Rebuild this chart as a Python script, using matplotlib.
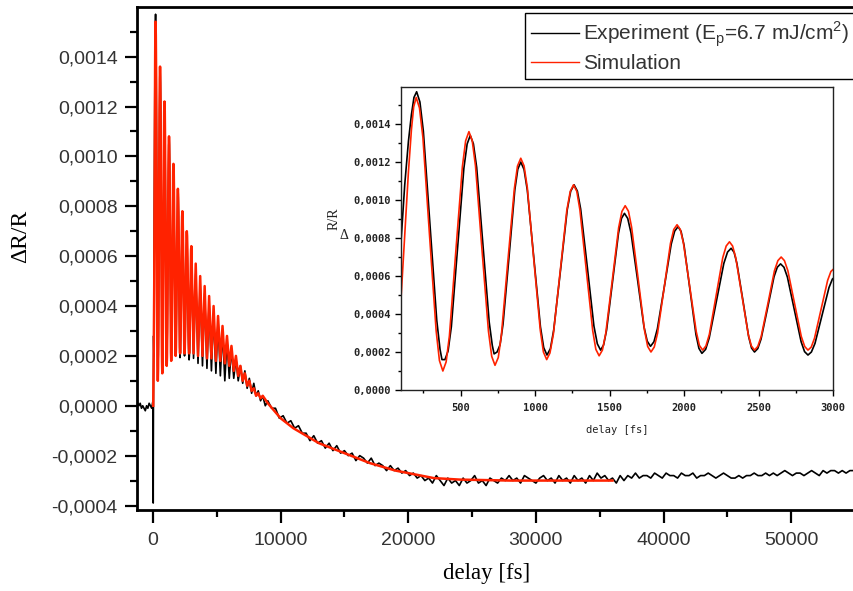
import matplotlib.pyplot as plt
import numpy as np
from matplotlib.ticker import MultipleLocator, FuncFormatter

plt.rcParams['font.family'] = ['Liberation Sans', 'DejaVu Sans']

# ---- Experiment (black): baseline before time zero ----
exp_pre_x = [-1200, -1100, -1000, -900, -800, -700, -600, -500, -400, -300, -200, -100, 0]
exp_pre_y = [0.00001, 0.0, 0.00001, -0.00001, 0.0, -0.00001, -0.00002, 0.0, -0.00001,
             0.00001, 0.0, -0.00001, 0.00002]

# ---- Experiment: coherent phonon oscillation (0-3000 fs) ----
exp_osc_x = [20, 50, 75, 100, 125, 150, 170, 187, 205,
             227, 250, 295, 340, 362, 375, 395,
             416, 438, 480, 522, 544, 565,
             586, 608, 650, 692, 713, 725, 745,
             765, 785, 825, 864, 884, 904,
             926, 948, 992, 1036, 1058, 1080,
             1103, 1125, 1171, 1216, 1239, 1262,
             1284, 1306, 1351, 1395, 1418, 1440,
             1460, 1480, 1520, 1560, 1580, 1600,
             1622, 1644, 1688, 1731, 1753, 1775,
             1798, 1821, 1868, 1914, 1937, 1960,
             1980, 2000, 2040, 2080, 2100, 2120,
             2145, 2169, 2218, 2267, 2292, 2316,
             2336, 2355, 2395, 2434, 2453, 2473,
             2495, 2517, 2561, 2604, 2626, 2648,
             2671, 2694, 2740, 2786, 2809, 2832,
             2855, 2879, 2926, 2973, 2996, 3020]
exp_osc_y = [-0.00039, 0.00028, 0.00020, 0.00078, 0.00108, 0.00131, 0.00145, 0.00154, 0.00157,
             0.001516, 0.001363, 0.000865, 0.000367, 0.000214, 0.00016, 0.00016,
             0.000205, 0.000333, 0.00075, 0.001167, 0.001295, 0.00134,
             0.001296, 0.001172, 0.000765, 0.000358, 0.000234, 0.00019, 0.00020,
             0.000238, 0.000347, 0.00070, 0.001053, 0.001162, 0.00120,
             0.001161, 0.001051, 0.000692, 0.000333, 0.000223, 0.000184,
             0.000218, 0.000315, 0.000632, 0.000949, 0.001046, 0.00108,
             0.001047, 0.000953, 0.000645, 0.000337, 0.000243, 0.00021,
             0.000237, 0.000315, 0.00057, 0.000825, 0.000903, 0.00093,
             0.000903, 0.000827, 0.00058, 0.000333, 0.000257, 0.00023,
             0.000254, 0.000322, 0.000545, 0.000768, 0.000836, 0.00086,
             0.000835, 0.000762, 0.000527, 0.000292, 0.000219, 0.000193,
             0.000214, 0.000274, 0.00047, 0.000666, 0.000726, 0.000746,
             0.000725, 0.000666, 0.000473, 0.00028, 0.000221, 0.00020,
             0.000218, 0.000268, 0.000432, 0.000596, 0.000646, 0.000664,
             0.000646, 0.000594, 0.000424, 0.000254, 0.000202, 0.000184,
             0.00020, 0.000245, 0.000392, 0.000539, 0.000584, 0.00060]

# ---- Experiment: troughs / peaks of the decaying oscillation (3000-9000 fs) ----
exp_pk_x = [3180, 3350, 3530, 3700, 3880, 4050, 4230, 4400, 4580, 4750, 4930, 5100,
            5280, 5450, 5630, 5800, 5980, 6150, 6330, 6500, 6680, 6850, 7030, 7200,
            7380, 7550, 7730, 7900, 8080, 8250, 8430, 8600, 8800]
exp_pk_y = [0.00019, 0.00053, 0.00017, 0.00049, 0.00016, 0.00045, 0.00015, 0.00041,
            0.00014, 0.00037, 0.00013, 0.00034, 0.00012, 0.00030, 0.00010, 0.00026,
            0.00011, 0.00023, 0.00011, 0.00019, 0.00010, 0.00016, 0.00009, 0.00014,
            0.00007, 0.00011, 0.00005, 0.00009, 0.00004, 0.00006, 0.00002, 0.00004, 0.0]

# ---- Experiment: slow tail, sampled every 300 fs from 9000 fs ----
exp_tail_x = np.arange(9000, 55000, 300)
exp_tail_y = [
    0.00002, -0.00001, -0.00001, -0.00005, -0.00004, -0.00007, -0.00006, -0.00009, -0.00008, -0.00011,
    -0.00011, -0.00014, -0.00012, -0.00015, -0.00014, -0.00017, -0.00015, -0.00018, -0.00016, -0.00019,
    -0.00018, -0.00020, -0.00019, -0.00022, -0.00020, -0.00021, -0.00023, -0.00021, -0.00024, -0.00023,
    -0.00024, -0.00026, -0.00024, -0.00026, -0.00025, -0.00027, -0.00026, -0.00028, -0.00027, -0.00029,
    -0.00028, -0.00030, -0.00029, -0.00031, -0.00028, -0.00030, -0.00032, -0.00029, -0.00031, -0.00030,
    -0.00032, -0.00029, -0.00031, -0.00030, -0.00028, -0.00031, -0.00030, -0.00032, -0.00029, -0.00030,
    -0.00031, -0.00029, -0.00030, -0.00028, -0.00030, -0.00029, -0.00031, -0.00028, -0.00029, -0.00030,
    -0.00031, -0.00029, -0.00028, -0.00030, -0.00029, -0.00031, -0.00028, -0.00030, -0.00029, -0.00031,
    -0.00028, -0.00030, -0.00029, -0.00031, -0.00028, -0.00030, -0.00027, -0.00029, -0.00028, -0.00030,
    -0.00029, -0.00031, -0.00028, -0.00030, -0.00028, -0.00029, -0.00027, -0.00029, -0.00028, -0.00028,
    -0.00029, -0.00027, -0.00028, -0.00029, -0.00027, -0.00028, -0.00028, -0.00029, -0.00027, -0.00028,
    -0.00028, -0.00027, -0.00029, -0.00028, -0.00028, -0.00027, -0.00028, -0.00029, -0.00028, -0.00027,
    -0.00028, -0.00029, -0.00029, -0.00028, -0.00029, -0.00028, -0.00028, -0.00027, -0.00028, -0.00028,
    -0.00027, -0.00028, -0.00027, -0.00028, -0.00027, -0.00026, -0.00027, -0.00028, -0.00027, -0.00027,
    -0.00028, -0.00027, -0.00026, -0.00027, -0.00028, -0.00026, -0.00027, -0.00026, -0.00026, -0.00027,
    -0.00026, -0.00027, -0.00026, -0.00026,
]

# ---- Simulation (red) ----
sim_osc_x = [20, 60, 100, 125, 150, 170, 185, 202,
             224, 247, 291, 336, 358, 381,
             403, 425, 468, 512, 534, 556,
             578, 600, 643, 687, 709, 731,
             753, 774, 817, 861, 882, 904,
             926, 948, 991, 1035, 1056, 1078,
             1100, 1123, 1168, 1213, 1236, 1258,
             1280, 1301, 1344, 1387, 1408, 1430,
             1452, 1474, 1518, 1561, 1583, 1605,
             1627, 1648, 1692, 1735, 1756, 1778,
             1800, 1822, 1866, 1909, 1931, 1953,
             1975, 1996, 2039, 2082, 2103, 2125,
             2147, 2170, 2215, 2260, 2283, 2305,
             2326, 2347, 2389, 2431, 2452, 2473,
             2495, 2518, 2563, 2607, 2630, 2652,
             2674, 2697, 2742, 2787, 2810, 2832,
             2854, 2876, 2920, 2964, 2986, 3008]
sim_osc_y = [0.0, 0.00020, 0.00048, 0.00082, 0.00115, 0.00137, 0.00149, 0.00154,
             0.001485, 0.00133, 0.00082, 0.000311, 0.000155, 0.00010,
             0.000148, 0.000285, 0.00073, 0.001175, 0.001312, 0.00136,
             0.001313, 0.00118, 0.000745, 0.00031, 0.000177, 0.00013,
             0.000171, 0.00029, 0.000675, 0.00106, 0.001179, 0.00122,
             0.00118, 0.001065, 0.00069, 0.000315, 0.00020, 0.00016,
             0.000195, 0.000295, 0.00062, 0.000945, 0.001045, 0.00108,
             0.001046, 0.000948, 0.00063, 0.000312, 0.000214, 0.00018,
             0.00021, 0.000296, 0.000575, 0.000854, 0.00094, 0.00097,
             0.000941, 0.000857, 0.000585, 0.000313, 0.000229, 0.00020,
             0.000226, 0.000298, 0.000535, 0.000772, 0.000845, 0.00087,
             0.000845, 0.000773, 0.00054, 0.000307, 0.000235, 0.00021,
             0.000232, 0.000293, 0.000495, 0.000697, 0.000758, 0.00078,
             0.000758, 0.000697, 0.000495, 0.000293, 0.000232, 0.00021,
             0.000229, 0.000282, 0.000455, 0.000628, 0.000681, 0.00070,
             0.000681, 0.000628, 0.000455, 0.000282, 0.000229, 0.00021,
             0.000226, 0.000273, 0.000425, 0.000577, 0.000624, 0.00064]

sim_pk_x = [3180, 3350, 3530, 3700, 3880, 4050, 4230, 4400, 4580, 4750, 4930, 5100,
            5280, 5450, 5630, 5800, 5980, 6150, 6330, 6500, 6680, 6850, 7030, 7200,
            7380, 7550, 7730, 7900, 8080, 8250, 8430, 8600]
sim_pk_y = [0.00021, 0.00057, 0.00020, 0.00052, 0.00020, 0.00048, 0.00019, 0.00044,
            0.00019, 0.00040, 0.00018, 0.00036, 0.00018, 0.00032, 0.00017, 0.00028,
            0.00016, 0.00024, 0.00014, 0.00020, 0.00012, 0.00016, 0.00010, 0.00013,
            0.00008, 0.00010, 0.00006, 0.00007, 0.00004, 0.00005, 0.00003, 0.00004]

sim_tail_x = [9000, 10000, 11000, 12000, 13000, 14000, 15000, 16000, 17000, 18000, 19000,
              20000, 21000, 22000, 23000, 24000, 26000, 28000, 30000, 33000, 36000]
sim_tail_y = [0.00001, -0.00005, -0.00009, -0.00012, -0.00015, -0.00017, -0.00019, -0.00021,
              -0.00023, -0.000245, -0.00026, -0.00027, -0.00028, -0.00029, -0.000293,
              -0.000296, -0.000298, -0.0003, -0.0003, -0.0003, -0.0003]

delay_exp = np.concatenate([exp_pre_x, exp_osc_x, exp_pk_x, exp_tail_x])
dr_exp = np.concatenate([exp_pre_y, exp_osc_y, exp_pk_y, exp_tail_y])
delay_sim = np.concatenate([sim_osc_x, sim_pk_x, sim_tail_x])
dr_sim = np.concatenate([sim_osc_y, sim_pk_y, sim_tail_y])

RED = '#ff2200'
W, H = 854, 591


def comma_fmt(v, pos):
    if abs(v) < 1e-12:
        v = 0.0
    return f"{v:.4f}".replace('.', ',')


fig = plt.figure(figsize=(W / 100, H / 100), dpi=100)

# --- main panel ---
ax = fig.add_axes([137 / W, 81 / H, 718 / W, 503 / H])
ax.plot(delay_exp, dr_exp, color='black', lw=1.2,
        label='Experiment (E$_\\mathregular{p}$=6.7 mJ/cm$^\\mathregular{2}$)')
ax.plot(delay_sim, dr_sim, color=RED, lw=1.8, label='Simulation')
ax.set_xlim(-1250, 55000)
ax.set_ylim(-0.000418, 0.001599)

for s in ['left', 'bottom', 'top']:
    ax.spines[s].set_linewidth(2)
ax.spines['right'].set_visible(False)

ax.xaxis.set_major_locator(MultipleLocator(10000))
ax.xaxis.set_minor_locator(MultipleLocator(5000))
ax.yaxis.set_major_locator(MultipleLocator(0.0002))
ax.yaxis.set_minor_locator(MultipleLocator(0.0001))
ax.yaxis.set_major_formatter(FuncFormatter(comma_fmt))
ax.xaxis.set_major_formatter(FuncFormatter(lambda v, p: f"{int(round(v))}"))
ax.tick_params(which='both', direction='out', top=False, right=False, width=1.6,
               labelsize=14, labelcolor='#333333')
ax.tick_params(which='major', length=9)
ax.tick_params(which='minor', length=5)
ax.tick_params(axis='x', pad=7)
ax.tick_params(axis='y', pad=5)

ax.set_xlabel('delay [fs]', fontfamily='Liberation Serif', fontsize=16.5)
ax.set_ylabel('ΔR/R', fontfamily='Liberation Serif', fontsize=17)
ax.xaxis.set_label_coords(0.4875, -0.105)
ax.yaxis.set_label_coords(-0.148, 0.543)

leg = ax.legend(loc='upper left', bbox_to_anchor=(525 / W, 1 - 13 / H),
                bbox_transform=fig.transFigure, borderaxespad=0, fancybox=False,
                framealpha=1, edgecolor='black', borderpad=0.3, handlelength=2.3,
                handletextpad=0.2, labelspacing=0.25, fontsize=15)
leg.get_frame().set_linewidth(1.0)
for t in leg.get_texts():
    t.set_color('#333333')
for h in leg.get_lines():
    h.set_linewidth(1.0)

# --- inset: first 3 ps ---
ins = fig.add_axes([401 / W, 201 / H, 432 / W, 303 / H])
ins.plot(delay_exp, dr_exp, color='black', lw=1.2)
ins.plot(delay_sim, dr_sim, color=RED, lw=1.2)
ins.set_xlim(100, 3000)
ins.set_ylim(0, 0.001595)
for s in ins.spines.values():
    s.set_linewidth(1.0)
    s.set_color('#222222')
ins.xaxis.set_major_locator(MultipleLocator(500))
ins.xaxis.set_minor_locator(MultipleLocator(250))
ins.yaxis.set_major_locator(MultipleLocator(0.0002))
ins.yaxis.set_minor_locator(MultipleLocator(0.0001))
ins.yaxis.set_major_formatter(FuncFormatter(comma_fmt))
ins.xaxis.set_major_formatter(FuncFormatter(lambda v, p: f"{int(round(v))}"))
ins.tick_params(which='both', direction='out', top=False, right=False, width=1.0,
                labelsize=7.5, labelcolor='#222222')
ins.tick_params(which='major', length=4.5)
ins.tick_params(which='minor', length=2.5)
ins.tick_params(axis='x', pad=5)
ins.tick_params(axis='y', pad=3)
for lab in ins.get_xticklabels() + ins.get_yticklabels():
    lab.set_fontfamily('DejaVu Sans Mono')
    lab.set_fontweight('bold')
ins.set_xlabel('delay [fs]', fontfamily='DejaVu Sans Mono', fontsize=7.5, color='#222222')
ins.xaxis.set_label_coords(0.5, -0.115)
ins.text(-0.155, 0.564, 'R/R', transform=ins.transAxes, rotation=90, ha='center',
         va='center', fontfamily='Liberation Serif', fontsize=10, color='#222222')
ins.text(-0.132, 0.51, 'Δ', transform=ins.transAxes, ha='center', va='center',
         fontfamily='Liberation Serif', fontsize=10, color='#222222')

fig.savefig('out.png', dpi=100)
